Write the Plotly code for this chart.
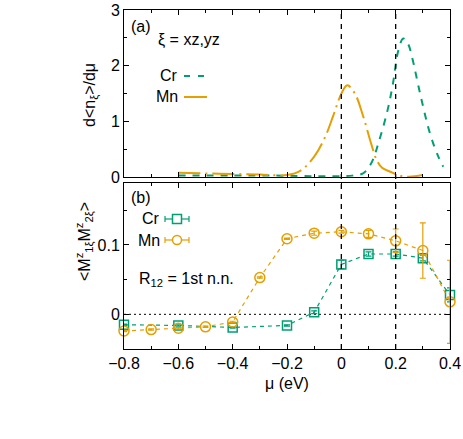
import plotly.graph_objects as go

# (a) d<n_xi>/dmu for xi = xz,yz
cr_dos_mu = [-0.6, -0.4, -0.24, -0.1, 0.0, 0.04, 0.08, 0.11, 0.14, 0.17, 0.19, 0.21, 0.228, 0.245, 0.26, 0.29, 0.326, 0.357, 0.375]
cr_dos = [0.03, 0.03, 0.03, 0.02, 0.02, 0.03, 0.07, 0.25, 0.67, 1.2, 1.68, 2.28, 2.49, 2.4, 2.16, 1.5, 0.79, 0.37, 0.19]
mn_dos_mu = [-0.6, -0.5, -0.4, -0.3, -0.2, -0.15, -0.1, -0.06, -0.03, 0.0, 0.022, 0.05, 0.08, 0.11, 0.13, 0.15, 0.18, 0.216, 0.25, 0.3]
mn_dos = [0.08, 0.07, 0.06, 0.05, 0.04, 0.12, 0.37, 0.72, 1.1, 1.5, 1.65, 1.5, 1.1, 0.6, 0.31, 0.17, 0.1, 0.03, 0.01, 0.04]

# (b) <M^z_1xi M^z_2xi>, R12 = 1st n.n.
cr_mu = [-0.8, -0.6, -0.4, -0.2, -0.1, 0.0, 0.1, 0.2, 0.3, 0.4]
cr_corr = [-0.015, -0.016, -0.019, -0.016, 0.003, 0.072, 0.087, 0.087, 0.081, 0.028]
cr_err = [0.001, 0.001, 0.001, 0.001, 0.002, 0.006, 0.003, 0.003, 0.004, 0.01]
mn_mu = [-0.8, -0.7, -0.6, -0.5, -0.4, -0.3, -0.2, -0.1, 0.0, 0.1, 0.2, 0.3, 0.4]
mn_corr = [-0.024, -0.022, -0.020, -0.018, -0.011, 0.053, 0.109, 0.117, 0.119, 0.116, 0.106, 0.092, 0.018]
mn_err = [0.001, 0.001, 0.001, 0.001, 0.001, 0.001, 0.001, 0.003, 0.002, 0.005, 0.017, 0.04, 0.06]

ref_mu = [0.0, 0.2]

GREEN = '#009e73'
ORANGE = '#e69f00'
FONT = 'Liberation Sans, Arial, sans-serif'
FS = 16

fig = go.Figure()

fig.add_trace(go.Scatter(x=cr_dos_mu, y=cr_dos, mode='lines', xaxis='x', yaxis='y',
    line=dict(color=GREEN, width=2, dash='7px,7px', shape='spline'), showlegend=False))
fig.add_trace(go.Scatter(x=mn_dos_mu, y=mn_dos, mode='lines', xaxis='x', yaxis='y',
    line=dict(color=ORANGE, width=2, dash='22px,5px,2px,5px', shape='spline'), showlegend=False))

fig.add_trace(go.Scatter(x=cr_mu, y=cr_corr, mode='lines+markers', xaxis='x2', yaxis='y2',
    line=dict(color=GREEN, width=1.2, dash='4px,4px'),
    marker=dict(symbol='square-open', size=9, color=GREEN, line=dict(width=1.5)),
    error_y=dict(type='data', array=cr_err, color=GREEN, thickness=1.2, width=3),
    cliponaxis=False, showlegend=False))
fig.add_trace(go.Scatter(x=mn_mu, y=mn_corr, mode='lines+markers', xaxis='x2', yaxis='y2',
    line=dict(color=ORANGE, width=1.2, dash='4px,4px'),
    marker=dict(symbol='circle-open', size=10, color=ORANGE, line=dict(width=1.5)),
    error_y=dict(type='data', array=mn_err, color=ORANGE, thickness=1.2, width=3),
    cliponaxis=False, showlegend=False))

axis_style = dict(showline=True, linecolor='black', linewidth=1, mirror='allticks',
    ticks='inside', ticklen=5, tickcolor='black', showgrid=False, zeroline=False,
    tickfont=dict(size=FS, color='black'))
minor_style = dict(ticklen=3, ticks='inside', tickcolor='black')

shapes = []
for m in ref_mu:
    shapes.append(dict(type='line', xref='x', yref='paper', x0=m, x1=m, y0=0, y1=1,
        line=dict(color='black', width=1.3, dash='5px,5px'), layer='above'))
shapes.append(dict(type='line', xref='x2 domain', yref='y2', x0=0, x1=1, y0=0, y1=0,
    line=dict(color='black', width=1, dash='2px,3px'), layer='below'))

# hand-made keys (text on the left of the sample, gnuplot style)
def px(x):
    return (x - 124) / 326.0

def py(y):
    return (349 - y) / 339.0

shapes.append(dict(type='line', xref='paper', yref='paper', x0=px(184), x1=px(207), y0=py(76), y1=py(76),
    line=dict(color=GREEN, width=2, dash='6px,8px')))
shapes.append(dict(type='line', xref='paper', yref='paper', x0=px(184), x1=px(207), y0=py(97), y1=py(97),
    line=dict(color=ORANGE, width=2)))
for yy, col, sym in [(219, GREEN, 'rect'), (240, ORANGE, 'circle')]:
    shapes.append(dict(type='line', xref='paper', yref='paper', x0=px(165), x1=px(189), y0=py(yy), y1=py(yy),
        line=dict(color=col, width=1.2)))
    for xx in (165, 189):
        shapes.append(dict(type='line', xref='paper', yref='paper', x0=px(xx), x1=px(xx),
            y0=py(yy - 3), y1=py(yy + 3), line=dict(color=col, width=1.2)))
    shapes.append(dict(type=sym, xref='paper', yref='paper', xsizemode='pixel', ysizemode='pixel',
        xanchor=px(177), yanchor=py(yy), x0=-4.5, x1=4.5, y0=-4.5, y1=4.5,
        line=dict(color=col, width=1.5), fillcolor='white'))
for s in shapes:
    s['opacity'] = 1

annotations = [
    dict(text='(a)', x=px(129), y=py(26), xanchor='left'),
    dict(text='\u03be = xz,yz', x=px(156), y=py(40), xanchor='left'),
    dict(text='Cr', x=px(180), y=py(76), xanchor='right'),
    dict(text='Mn', x=px(180), y=py(97), xanchor='right'),
    dict(text='(b)', x=px(129), y=py(197), xanchor='left'),
    dict(text='Cr', x=px(162), y=py(219), xanchor='right'),
    dict(text='Mn', x=px(162), y=py(240), xanchor='right'),
    dict(text='R<sub>12</sub> = 1st n.n.', x=px(137), y=py(279), xanchor='left'),
    dict(text='d&lt;n<sub>\u03be</sub>&gt;/d\u03bc', x=px(90), y=py(95), textangle=-90, xanchor='center'),
    dict(text='&lt;M<sup>z</sup><sub>1\u03be</sub>M<sup>z</sup><sub>2\u03be</sub>&gt;',
        x=px(84), y=py(242), textangle=-90, xanchor='center'),
]
for a in annotations:
    a.update(xref='paper', yref='paper', showarrow=False, yanchor='middle',
        font=dict(family=FONT, size=FS, color='black'))

fig.update_layout(
    width=463, height=439, template='none',
    paper_bgcolor='white', plot_bgcolor='white',
    font=dict(family=FONT, size=FS, color='black'),
    margin=dict(l=124, r=13, t=10, b=90),
    xaxis=dict(axis_style, domain=[0, 1], anchor='y', range=[-0.8, 0.4], dtick=0.2,
        showticklabels=False, minor=dict(minor_style, dtick=0.1)),
    yaxis=dict(axis_style, domain=[0.5065, 1], anchor='x', range=[0, 3], dtick=1,
        minor=dict(minor_style, dtick=0.5)),
    xaxis2=dict(axis_style, domain=[0, 1], anchor='y2', range=[-0.8, 0.4], dtick=0.2,
        minor=dict(minor_style, dtick=0.1),
        title=dict(text='\u03bc (eV)', standoff=6, font=dict(size=FS))),
    yaxis2=dict(axis_style, domain=[0, 0.491], anchor='x2', range=[-0.05, 0.19], dtick=0.1, tick0=0,
        minor=dict(minor_style, dtick=0.05)),
    shapes=shapes, annotations=annotations,
)

fig.write_html('out.html', config={'displayModeBar': False},
    post_script="document.body.style.margin='0';")
